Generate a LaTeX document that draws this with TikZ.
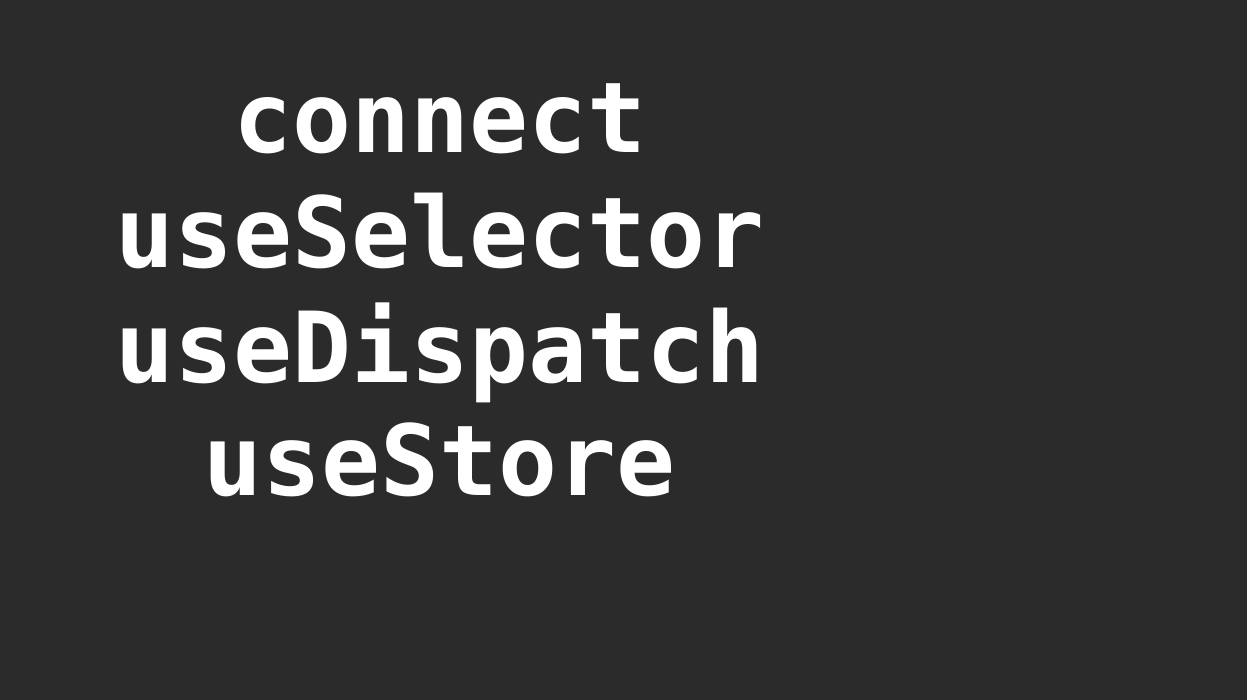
\documentclass[tikz,border=0pt]{standalone}
\usepackage{fontspec}
\setmonofont{DejaVu Sans Mono}
\definecolor{bg}{HTML}{2B2B2B}
\tikzset{word/.style={text=white, font=\ttfamily\bfseries\fontsize{98pt}{98pt}\selectfont, anchor=base, inner sep=0pt}}
\begin{document}
\begin{tikzpicture}[x=1pt,y=1pt]
\fill[bg] (0,0) rectangle (1247,-700);
\useasboundingbox (0,0) rectangle (1247,-700);
\node[word] (l1) at (440,-153) {connect};
\node[word] (l2) at (440,-268) {useSelector};
\node[word] (l3) at (440,-382) {useDispatch};
\node[word] (l4) at (440,-495) {useStore};
\end{tikzpicture}
\end{document}
